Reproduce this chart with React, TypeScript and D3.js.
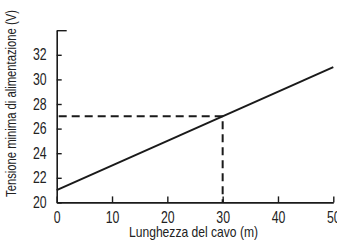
import React, { useEffect, useRef } from "react";
import * as d3 from "d3";

const xTicks = [0, 10, 20, 30, 40, 50];
const yTicks = [20, 22, 24, 26, 28, 30, 32];
const lineData = [
  { length: 0, volts: 21 },
  { length: 50, volts: 31 },
];
const marker = { length: 30, volts: 27 };

const FONT = "'Liberation Sans', Arial, sans-serif";
const NARROW = 0.77;

const App = () => {
  const ref = useRef<SVGSVGElement | null>(null);

  useEffect(() => {
    const width = 337;
    const height = 241;
    const svg = d3.select(ref.current);
    svg.selectAll("*").remove();

    const x = d3.scaleLinear().domain([0, 50]).range([56.7, 333.3]);
    const y = d3.scaleLinear().domain([20, 34]).range([202.4, 30.2]);

    // axes
    const xAxis = svg
      .append("g")
      .attr("transform", `translate(0,${y(20)})`)
      .call(d3.axisBottom(x).tickValues(xTicks).tickSize(-6).tickSizeOuter(0).tickPadding(9));

    const yAxis = svg
      .append("g")
      .attr("transform", `translate(${x(0)},0)`)
      .call(d3.axisLeft(y).tickValues([...yTicks, 34]).tickSize(-5).tickSizeOuter(0).tickPadding(10 / NARROW)
        .tickFormat((d) => (d === 34 ? "" : String(d))));

    [xAxis, yAxis].forEach((g) => {
      g.select(".domain").attr("stroke", "#1a1a1a").attr("stroke-width", 1.6);
      g.selectAll(".tick line").attr("stroke", "#1a1a1a").attr("stroke-width", 1.4);
      g.selectAll(".tick text")
        .attr("fill", "#222")
        .attr("transform", `scale(${NARROW},1)`)
        .style("font-family", FONT)
        .style("font-size", "16px");
    });
    // top cap of y axis is longer
    yAxis.selectAll(".tick").filter((d) => d === 34).select("line").attr("x2", 10);

    // dashed guide lines
    svg
      .append("path")
      .attr("d", `M${x(0) + 2},${y(marker.volts)}H${x(marker.length)}V${y(20)}`)
      .attr("fill", "none")
      .attr("stroke", "#1a1a1a")
      .attr("stroke-width", 2)
      .attr("stroke-dasharray", "8,5");

    // main line
    const line = d3
      .line<{ length: number; volts: number }>()
      .x((d) => x(d.length))
      .y((d) => y(d.volts));
    svg
      .append("path")
      .datum(lineData)
      .attr("d", line)
      .attr("fill", "none")
      .attr("stroke", "#1a1a1a")
      .attr("stroke-width", 2);

    // axis titles
    svg
      .append("text")
      .attr("x", 129)
      .attr("y", 237)
      .attr("textLength", 129)
      .attr("lengthAdjust", "spacingAndGlyphs")
      .attr("fill", "#222")
      .style("font-family", FONT)
      .style("font-size", "14.5px")
      .text("Lunghezza del cavo (m)");

    svg
      .append("text")
      .attr("transform", `translate(15.5,197) rotate(-90)`)
      .attr("textLength", 187)
      .attr("lengthAdjust", "spacingAndGlyphs")
      .attr("fill", "#222")
      .style("font-family", FONT)
      .style("font-size", "14.2px")
      .text("Tensione minima di alimentazione (V)");

    svg.attr("width", width).attr("height", height);
  }, []);

  return (
    <div style={{ position: "absolute", left: 0, top: 0, width: 337, height: 241, background: "#fff" }}>
      <svg ref={ref} width={337} height={241} style={{ display: "block" }} />
    </div>
  );
};

export default App;
